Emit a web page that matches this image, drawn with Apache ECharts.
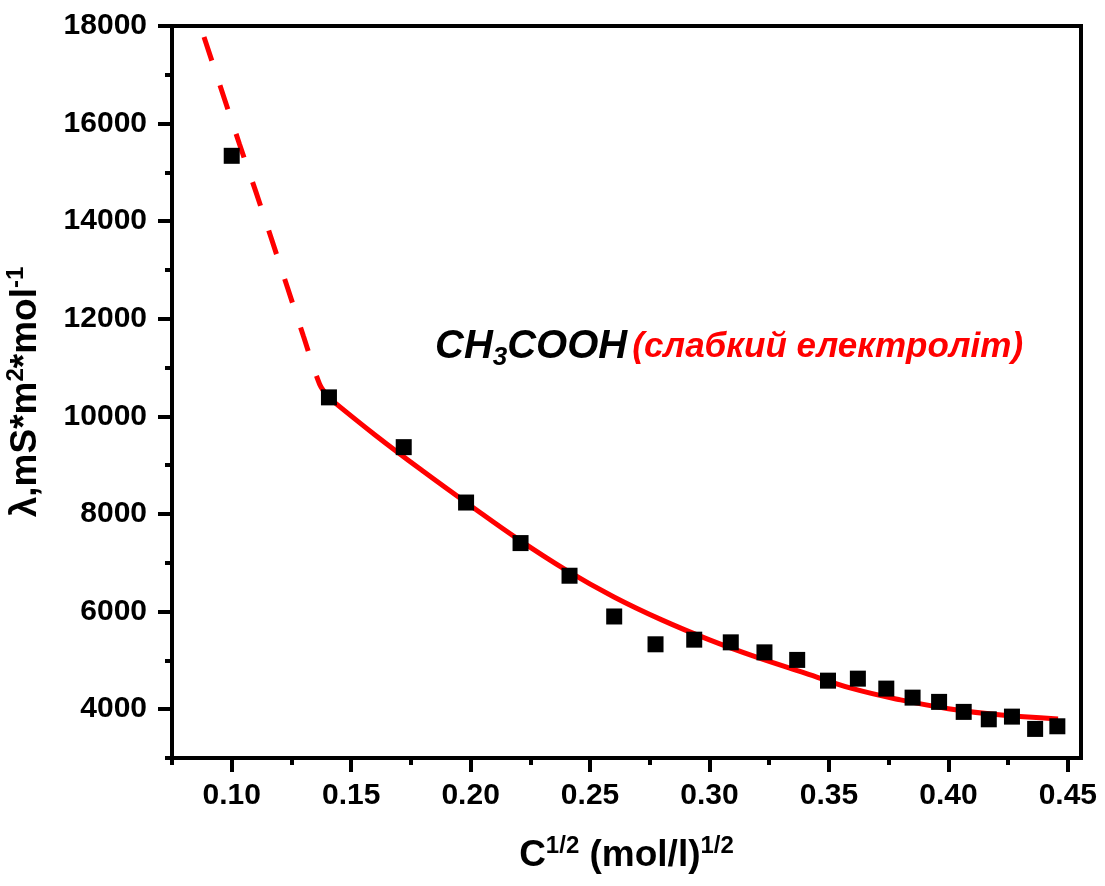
<!DOCTYPE html>
<html>
<head>
<meta charset="utf-8">
<script src="https://cdn.jsdelivr.net/npm/echarts@6/dist/echarts.min.js"></script>
<style>
	html, body { margin: 0; padding: 0; background: #fff; }
	#chart { width: 1105px; height: 886px; }
</style>
</head>
<body>
<div id="chart"></div>
<script>
// measured points: C^1/2 vs lambda
var xData = [0.1000, 0.1407, 0.1720, 0.1981, 0.2209, 0.2414, 0.2601, 0.2774, 0.2936, 0.3089, 0.3230,
	0.3367, 0.3496, 0.3621, 0.3740, 0.3850, 0.3961, 0.4064, 0.4169, 0.4266, 0.4363, 0.4456];
var yData = [15340, 10390, 9370, 8235, 7404, 6735, 5900, 5330, 5425, 5370, 5165,
	5010, 4585, 4626, 4422, 4237, 4150, 3945, 3793, 3848, 3596, 3650];

// fitted curve
var fitX = [0.1407, 0.16, 0.18, 0.20, 0.22, 0.24, 0.26, 0.28, 0.30, 0.32, 0.34, 0.36, 0.38, 0.40, 0.42, 0.4459];
var fitY = [10380, 9620, 8880, 8170, 7480, 6850, 6300, 5830, 5420, 5060, 4740, 4420, 4190, 4010, 3890, 3800];

// extrapolated (dashed) part
var extX = [0.0884, 0.1033, 0.1102, 0.1168, 0.1234, 0.1300, 0.1368, 0.1407];
var extY = [17775, 15572, 14590, 13613, 12630, 11648, 10659, 10380];

var xMajor = [0.10, 0.15, 0.20, 0.25, 0.30, 0.35, 0.40, 0.45];
var xMinor = [0.075, 0.125, 0.175, 0.225, 0.275, 0.325, 0.375, 0.425];
var yMajor = [4000, 6000, 8000, 10000, 12000, 14000, 16000, 18000];
var yMinor = [3000, 5000, 7000, 9000, 11000, 13000, 15000, 17000];

function pairs(xs, ys) {
	var out = [];
	for (var i = 0; i < xs.length; i++) {
		out.push([xs[i], ys[i]]);
	}
	return out;
}

var chart = echarts.init(document.getElementById('chart'));
var font = 'Liberation Sans';

var option = {
	backgroundColor: '#ffffff',
	animation: false,
	title: {
		left: 430,
		top: 318,
		text: '{a|CH}{s|3}{a|COOH} {r|(слабкий електроліт)}',
		textStyle: {
			rich: {
				a: { fontFamily: font, fontSize: 40, fontWeight: 'bold', fontStyle: 'italic', color: '#000', lineHeight: 48 },
				s: { fontFamily: font, fontSize: 26, fontWeight: 'bold', fontStyle: 'italic', color: '#000', lineHeight: 16, verticalAlign: 'bottom' },
				r: { fontFamily: font, fontSize: 35, fontWeight: 'bold', fontStyle: 'italic', color: '#ff0000', lineHeight: 48 }
			}
		}
	},
	grid: {
		left: 172,
		right: 24,
		top: 26,
		bottom: 128,
		outerBoundsMode: 'none',
		show: true,
		borderColor: '#000',
		borderWidth: 4,
		backgroundColor: 'transparent'
	},
	xAxis: [
		{
			type: 'value',
			min: 0.075,
			max: 0.4555,
			position: 'bottom',
			splitLine: { show: false },
			axisLine: { lineStyle: { color: '#000', width: 4 } },
			axisTick: { customValues: xMajor, length: 14, lineStyle: { color: '#000', width: 4 } },
			axisLabel: {
				customValues: xMajor,
				margin: 23,
				fontFamily: font,
				fontSize: 30,
				fontWeight: 'bold',
				color: '#000',
				formatter: function (v) { return v.toFixed(2); }
			},
			name: '{a|C}{p|1/2}{a| (mol/l)}{p|1/2}',
			nameLocation: 'middle',
			nameGap: 76,
			nameTextStyle: {
				rich: {
					a: { fontFamily: font, fontSize: 37, fontWeight: 'bold', color: '#000', lineHeight: 44 },
					p: { fontFamily: font, fontSize: 24, fontWeight: 'bold', color: '#000', lineHeight: 24, verticalAlign: 'top' }
				}
			}
		},
		{
			type: 'value',
			min: 0.075,
			max: 0.4555,
			position: 'bottom',
			splitLine: { show: false },
			axisLine: { show: false },
			axisTick: { customValues: xMinor, length: 7, lineStyle: { color: '#000', width: 4 } },
			axisLabel: { show: false }
		}
	],
	yAxis: [
		{
			type: 'value',
			min: 3000,
			max: 18000,
			position: 'left',
			splitLine: { show: false },
			axisLine: { lineStyle: { color: '#000', width: 4 } },
			axisTick: { customValues: yMajor, length: 14, lineStyle: { color: '#000', width: 4 } },
			axisLabel: {
				customValues: yMajor,
				margin: 25,
				fontFamily: font,
				fontSize: 30,
				fontWeight: 'bold',
				color: '#000',
				formatter: function (v) { return String(v); }
			},
			name: '{a|λ,mS*m}{p|2}{a|*mol}{p|-1}',
			nameLocation: 'middle',
			nameRotate: 90,
			nameGap: 124,
			nameTextStyle: {
				rich: {
					a: { fontFamily: font, fontSize: 37, fontWeight: 'bold', color: '#000', lineHeight: 44 },
					p: { fontFamily: font, fontSize: 24, fontWeight: 'bold', color: '#000', lineHeight: 24, verticalAlign: 'top' }
				}
			}
		},
		{
			type: 'value',
			min: 3000,
			max: 18000,
			position: 'left',
			splitLine: { show: false },
			axisLine: { show: false },
			axisTick: { customValues: yMinor, length: 7, lineStyle: { color: '#000', width: 4 } },
			axisLabel: { show: false }
		}
	],
	series: [
		{
			name: 'extrapolation',
			type: 'line',
			data: pairs(extX, extY),
			smooth: 0.3,
			showSymbol: false,
			lineStyle: { color: '#ff0000', width: 5, type: [25, 26] },
			z: 2
		},
		{
			name: 'fit',
			type: 'line',
			data: pairs(fitX, fitY),
			smooth: 0.4,
			showSymbol: false,
			lineStyle: { color: '#ff0000', width: 5 },
			z: 3
		},
		{
			name: 'data',
			type: 'scatter',
			data: pairs(xData, yData),
			symbol: 'rect',
			symbolSize: 16,
			itemStyle: { color: '#000', opacity: 1 },
			z: 4
		}
	]
};

chart.setOption(option);
</script>
</body>
</html>
